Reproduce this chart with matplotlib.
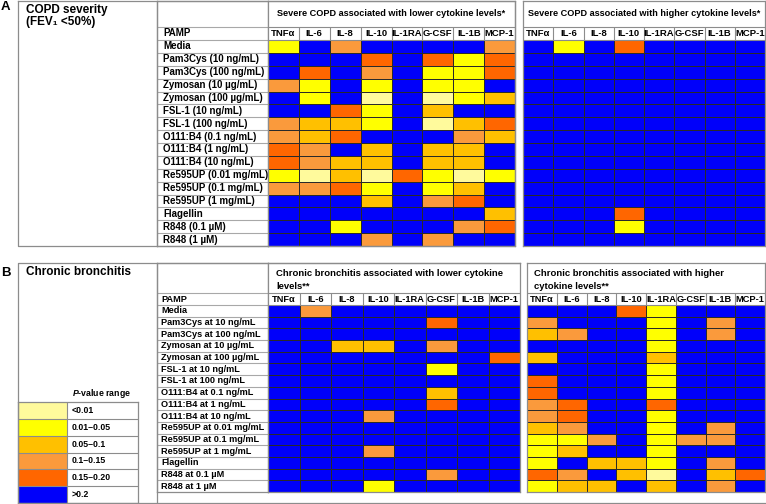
import numpy as np
import matplotlib.pyplot as plt
from matplotlib.colors import ListedColormap, BoundaryNorm

plt.rcParams['font.family'] = ['Liberation Sans', 'DejaVu Sans']
plt.rcParams['font.weight'] = 'bold'
plt.rcParams['mathtext.fontset'] = 'custom'
plt.rcParams['mathtext.it'] = 'Liberation Sans:italic:bold'
plt.rcParams['mathtext.rm'] = 'Liberation Sans:bold'

cytokines = ['TNFα', 'IL-6', 'IL-8', 'IL-10', 'IL-1RA', 'G-CSF', 'IL-1B', 'MCP-1']

pamps_a = ['Media', 'Pam3Cys (10 ng/mL)', 'Pam3Cys (100 ng/mL)', 'Zymosan (10 µg/mL)',
           'Zymosan (100 µg/mL)', 'FSL-1 (10 ng/mL)', 'FSL-1 (100 ng/mL)',
           'O111:B4 (0.1 ng/mL)', 'O111:B4 (1 ng/mL)', 'O111:B4 (10 ng/mL)',
           'Re595UP (0.01 mg/mL)', 'Re595UP (0.1 mg/mL)', 'Re595UP (1 mg/mL)',
           'Flagellin', 'R848 (0.1 µM)', 'R848 (1 µM)']
pamps_b = ['Media', 'Pam3Cys at 10 ng/mL', 'Pam3Cys at 100 ng/mL', 'Zymosan at 10 µg/mL',
           'Zymosan at 100 µg/mL', 'FSL-1 at 10 ng/mL', 'FSL-1 at 100 ng/mL',
           'O111:B4 at 0.1 ng/mL', 'O111:B4 at 1 ng/mL', 'O111:B4 at 10 ng/mL',
           'Re595UP at 0.01 mg/mL', 'Re595UP at 0.1 mg/mL', 'Re595UP at 1 mg/mL',
           'Flagellin', 'R848 at 0.1 µM', 'R848 at 1 µM']

# P-value classes: 0 <0.01, 1 0.01-0.05, 2 0.05-0.1, 3 0.1-0.15, 4 0.15-0.20, 5 >0.2
p_labels = ['<0.01', '0.01–0.05', '0.05–0.1', '0.1–0.15', '0.15–0.20', '>0.2']
p_colors = ['#FFFA9C', '#FFFF00', '#FFC000', '#FA9A3C', '#FF6600', '#0000FA']

copd_lower = [
    [1, 5, 3, 5, 5, 5, 5, 3],
    [5, 5, 5, 4, 5, 4, 1, 4],
    [5, 4, 5, 3, 5, 1, 1, 4],
    [3, 1, 5, 1, 5, 1, 1, 5],
    [5, 1, 5, 0, 5, 0, 1, 2],
    [5, 5, 4, 1, 5, 2, 5, 5],
    [3, 2, 2, 1, 5, 0, 2, 4],
    [3, 2, 4, 5, 5, 5, 3, 2],
    [4, 3, 5, 2, 5, 2, 2, 5],
    [4, 3, 2, 2, 5, 2, 2, 5],
    [1, 0, 2, 0, 4, 1, 0, 1],
    [3, 3, 4, 1, 5, 1, 2, 5],
    [5, 5, 5, 2, 5, 3, 4, 5],
    [5, 5, 5, 5, 5, 5, 5, 2],
    [5, 5, 1, 5, 5, 5, 3, 4],
    [5, 5, 5, 3, 5, 3, 5, 5],
]
copd_higher = [
    [5, 1, 5, 4, 5, 5, 5, 5],
    [5, 5, 5, 5, 5, 5, 5, 5],
    [5, 5, 5, 5, 5, 5, 5, 5],
    [5, 5, 5, 5, 5, 5, 5, 5],
    [5, 5, 5, 5, 5, 5, 5, 5],
    [5, 5, 5, 5, 5, 5, 5, 5],
    [5, 5, 5, 5, 5, 5, 5, 5],
    [5, 5, 5, 5, 5, 5, 5, 5],
    [5, 5, 5, 5, 5, 5, 5, 5],
    [5, 5, 5, 5, 5, 5, 5, 5],
    [5, 5, 5, 5, 5, 5, 5, 5],
    [5, 5, 5, 5, 5, 5, 5, 5],
    [5, 5, 5, 5, 5, 5, 5, 5],
    [5, 5, 5, 4, 5, 5, 5, 5],
    [5, 5, 5, 1, 5, 5, 5, 5],
    [5, 5, 5, 5, 5, 5, 5, 5],
]
cb_lower = [
    [5, 3, 5, 5, 5, 5, 5, 5],
    [5, 5, 5, 5, 5, 4, 5, 5],
    [5, 5, 5, 5, 5, 5, 5, 5],
    [5, 5, 2, 2, 5, 3, 5, 5],
    [5, 5, 5, 5, 5, 5, 5, 4],
    [5, 5, 5, 5, 5, 1, 5, 5],
    [5, 5, 5, 5, 5, 5, 5, 5],
    [5, 5, 5, 5, 5, 2, 5, 5],
    [5, 5, 5, 5, 5, 4, 5, 5],
    [5, 5, 5, 3, 5, 5, 5, 5],
    [5, 5, 5, 5, 5, 5, 5, 5],
    [5, 5, 5, 5, 5, 5, 5, 5],
    [5, 5, 5, 3, 5, 5, 5, 5],
    [5, 5, 5, 5, 5, 5, 5, 5],
    [5, 5, 5, 5, 5, 3, 5, 5],
    [5, 5, 5, 1, 5, 5, 5, 5],
]
cb_higher = [
    [5, 5, 5, 4, 1, 5, 5, 5],
    [3, 5, 5, 5, 1, 5, 3, 5],
    [2, 3, 5, 5, 1, 5, 3, 5],
    [5, 5, 5, 5, 1, 5, 5, 5],
    [2, 5, 5, 5, 2, 5, 5, 5],
    [5, 5, 5, 5, 1, 5, 5, 5],
    [4, 5, 5, 5, 1, 5, 5, 5],
    [4, 5, 5, 5, 1, 5, 5, 5],
    [3, 4, 5, 5, 4, 5, 5, 5],
    [3, 4, 5, 5, 1, 5, 5, 5],
    [2, 3, 5, 5, 1, 5, 3, 5],
    [1, 1, 3, 5, 1, 3, 3, 5],
    [1, 2, 5, 5, 1, 5, 5, 5],
    [1, 5, 2, 2, 1, 5, 3, 5],
    [4, 3, 5, 2, 0, 5, 2, 4],
    [1, 2, 2, 5, 2, 5, 3, 5],
]

W, H = 766, 504
fig = plt.figure(figsize=(W / 100, H / 100), dpi=100)
cmap = ListedColormap(p_colors)
norm = BoundaryNorm(np.arange(-0.5, 6), cmap.N)
GRID = '#8c8c8c'

bg = fig.add_axes([0, 0, 1, 1])
bg.set_xlim(0, W)
bg.set_ylim(H, 0)
bg.axis('off')
bg.set_zorder(10)


def px_axes(x0, y0, x1, y1):
    ax = fig.add_axes([x0 / W, 1 - y1 / H, (x1 - x0) / W, (y1 - y0) / H])
    ax.set_xticks([])
    ax.set_yticks([])
    for s in ax.spines.values():
        s.set_color(GRID)
        s.set_linewidth(0.9)
    return ax


def heat_box(x0, x1, y0, yh, yd, y1, values, fs):
    n = len(values)
    rh = (y1 - yd) / n
    top = -(yd - y0) / rh
    head = -(yd - yh) / rh
    nc = len(cytokines)
    ax = px_axes(x0, y0, x1, y1)
    ax.pcolormesh(np.arange(nc + 1), np.arange(n + 1), np.array(values),
                  cmap=cmap, norm=norm, edgecolors='#2a2a2a', linewidth=0.5)
    ax.hlines([head, 0], 0, nc, color=GRID, lw=0.8)
    ax.vlines(np.arange(1, nc), head, 0, color=GRID, lw=0.8)
    for j, c in enumerate(cytokines):
        ax.text(j + 0.5, head / 2, c, ha='center', va='center', fontsize=fs)
    ax.set_xlim(0, nc)
    ax.set_ylim(n, top)
    return ax


def pamp_col(x0, x1, y0, yh, yd, y1, labels, lx, fs):
    n = len(labels)
    rh = (y1 - yd) / n
    top = -(yd - y0) / rh
    head = -(yd - yh) / rh
    ax = px_axes(x0, y0, x1, y1)
    ax.hlines(np.r_[head, np.arange(n)], x0, x1, color='#a8a8a8', lw=0.8)
    ax.text(lx, head / 2, 'PAMP', va='center', fontsize=fs)
    for i, lab in enumerate(labels):
        ax.text(lx, i + 0.5, lab, va='center', fontsize=fs)
    ax.set_xlim(x0, x1)
    ax.set_ylim(n, top)
    return ax


# ---- panel A
bg.plot([18, 515, 515, 18, 18], [1, 1, 246, 246, 1], color=GRID, lw=0.9)
bg.plot([157, 157], [1, 246], color=GRID, lw=0.9)
bg.text(1, 10, 'A', fontsize=9.5, va='baseline')
bg.text(26, 12.5, 'COPD severity', fontsize=8.5, va='baseline')
bg.text(26, 25.5, '(FEV₁ <50%)', fontsize=8.5, va='baseline')
pamp_col(157, 268, 1, 27, 40, 246, pamps_a, 163, 7.0)
heat_box(268, 515, 1, 27, 40, 246, copd_lower, 6.8)
heat_box(523, 765, 1, 27, 40, 246, copd_higher, 6.8)
bg.text(391.5, 14, 'Severe COPD associated with lower cytokine levels*',
        ha='center', va='center', fontsize=6.6)
bg.text(644, 14, 'Severe COPD associated with higher cytokine levels*',
        ha='center', va='center', fontsize=6.6)

# ---- panel B
bg.plot([520, 18, 18, 765], [263, 263, 503, 503], color=GRID, lw=0.9)
bg.plot([157, 157], [263, 503], color=GRID, lw=0.9)
bg.text(1, 276, 'B', fontsize=9.5, va='baseline')
bg.text(26, 275, 'Chronic bronchitis', fontsize=8.5, va='baseline')
pamp_col(157, 268, 263, 293, 305, 492, pamps_b, 161, 6.6)
heat_box(268, 520, 263, 293, 305, 492, cb_lower, 6.7)
heat_box(527, 765, 263, 293, 305, 492, cb_higher, 6.7)
bg.text(276, 276, 'Chronic bronchitis associated with lower cytokine',
        fontsize=6.8, va='baseline')
bg.text(276, 289, 'levels**', fontsize=6.8, va='baseline')
bg.text(534, 276, 'Chronic bronchitis associated with higher',
        fontsize=6.8, va='baseline')
bg.text(534, 289, 'cytokine levels**', fontsize=6.8, va='baseline')

# ---- legend
bg.text(72, 393, '$P$-value range', fontsize=6.3, va='center')
lg = px_axes(18, 402, 138, 503)
lg.pcolormesh([18, 67], np.arange(len(p_labels) + 1),
              np.arange(len(p_labels)).reshape(-1, 1), cmap=cmap, norm=norm)
lg.hlines(np.arange(1, len(p_labels)), 18, 138, color=GRID, lw=0.8)
lg.vlines(67, 0, len(p_labels), color=GRID, lw=0.8)
for i, lab in enumerate(p_labels):
    lg.text(72, i + 0.5, lab, va='center', fontsize=6.3)
lg.set_xlim(18, 138)
lg.set_ylim(len(p_labels), 0)

fig.savefig('out.png', dpi=100)
